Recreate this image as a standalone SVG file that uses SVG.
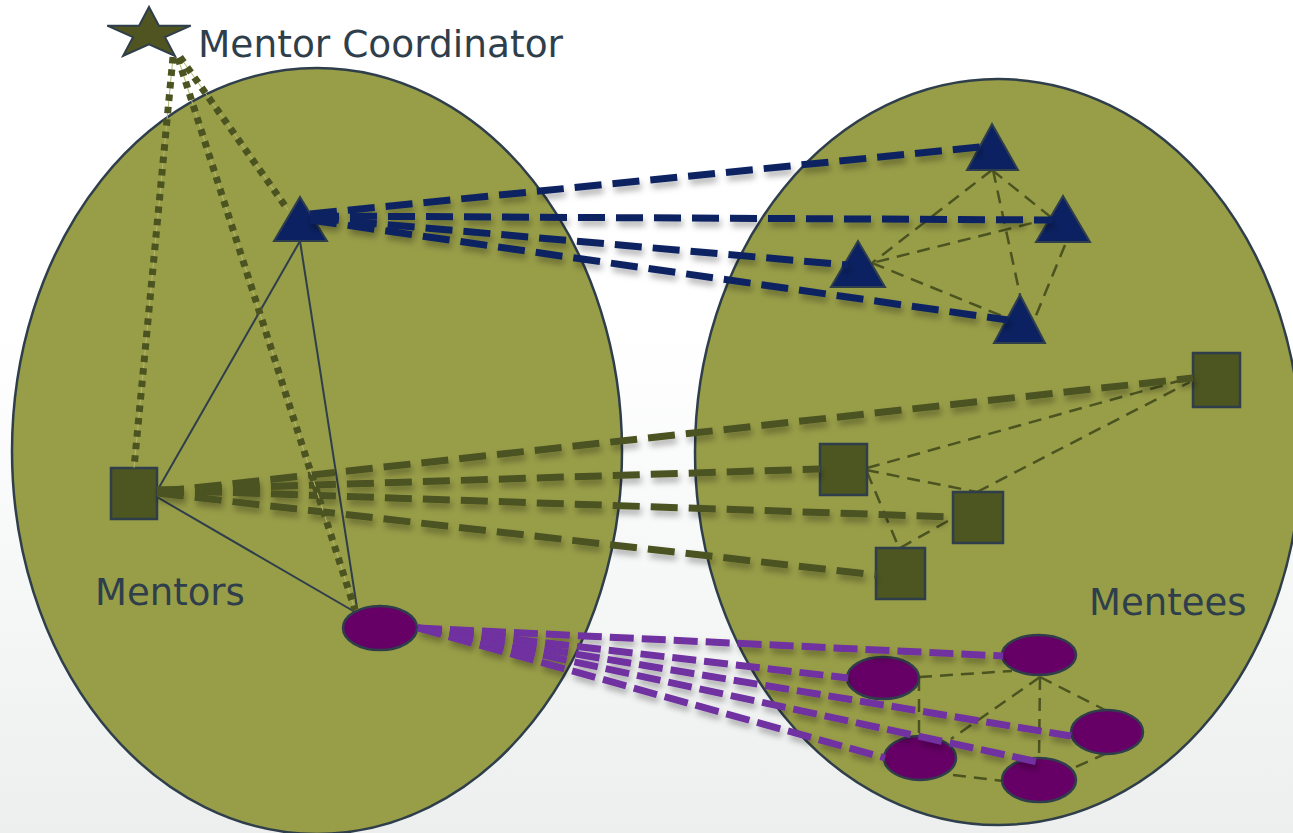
<svg xmlns="http://www.w3.org/2000/svg" width="1293" height="833" viewBox="0 0 1293 833">
<defs>
<linearGradient id="bg" x1="0" y1="0" x2="0" y2="833" gradientUnits="userSpaceOnUse">
<stop offset="0.4" stop-color="#ffffff"/>
<stop offset="1" stop-color="#edefef"/>
</linearGradient>
<filter id="shadow" filterUnits="userSpaceOnUse" x="0" y="0" width="1293" height="833">
<feDropShadow dx="2" dy="5" stdDeviation="3" flood-color="#000000" flood-opacity="0.3"/>
</filter>
<style>
.group{fill:#989d48;stroke:#2f3e4b;stroke-width:2.5}
.lbl{font-family:"DejaVu Sans","Verdana",sans-serif;font-size:37px;fill:#2f3e4b}
.big{font-size:37.5px}
.tri{fill:#0b2161;stroke:#2f3e4b;stroke-width:2}
.sq{fill:#4d5520;stroke:#2f3e4b;stroke-width:2.5}
.ell{fill:#660066;stroke:#2f3e4b;stroke-width:2.5}
.star{fill:#4f5421;stroke:#2f3e4b;stroke-width:2}
.blue{stroke:#0b2161;stroke-width:7;stroke-dasharray:27 11;fill:none}
.olive{stroke:#4b5320;stroke-width:7;stroke-dasharray:27 11;fill:none}
.purple{stroke:#7030a0;stroke-width:7;stroke-dasharray:24 8;fill:none}
.thin{stroke:#4b5320;stroke-width:2.5;stroke-dasharray:13 8;fill:none}
.dot{stroke:#4b5320;stroke-width:7;stroke-dasharray:6.5 6;fill:none}
.dotcore{stroke:#b5b86c;stroke-width:1;fill:none}
.solid{stroke:#2f3e4b;stroke-width:2;fill:none}
</style>
</defs>
<rect x="0" y="0" width="1293" height="833" fill="url(#bg)"/>

<g id="mentors-group">
<ellipse class="group" cx="317" cy="451" rx="305" ry="383"/>
<text class="lbl" x="95" y="605">Mentors</text>
</g>
<g id="mentees-group">
<ellipse class="group" cx="998" cy="452" rx="303" ry="373"/>
<text class="lbl" x="1089" y="615">Mentees</text>
</g>

<g id="connectors">
<g id="solid-links">
<line class="solid" x1="300" y1="241" x2="157" y2="491"/>
<line class="solid" x1="300" y1="241" x2="357" y2="608"/>
<line class="solid" x1="157" y1="497" x2="355" y2="612"/>
</g>
<g id="thin-dashed">
<line class="thin" x1="992" y1="170" x2="1052" y2="218"/>
<line class="thin" x1="992" y1="170" x2="872" y2="263"/>
<line class="thin" x1="993" y1="170" x2="1020" y2="295"/>
<line class="thin" x1="1052" y1="218" x2="872" y2="263"/>
<line class="thin" x1="872" y1="263" x2="1007" y2="318"/>
<line class="thin" x1="1065" y1="245" x2="1035" y2="318"/>
<line class="thin" x1="867" y1="468" x2="1193" y2="377"/>
<line class="thin" x1="977" y1="492" x2="1190" y2="382"/>
<line class="thin" x1="866" y1="470" x2="977" y2="492"/>
<line class="thin" x1="867" y1="472" x2="899" y2="548"/>
<line class="thin" x1="900" y1="548" x2="955" y2="517"/>
<line class="thin" x1="919" y1="677" x2="1012" y2="671"/>
<line class="thin" x1="919" y1="678" x2="919" y2="737"/>
<line class="thin" x1="1040" y1="677" x2="951" y2="739"/>
<line class="thin" x1="1040" y1="677" x2="1039" y2="760"/>
<line class="thin" x1="1040" y1="677" x2="1107" y2="711"/>
<line class="thin" x1="1107" y1="753" x2="1067" y2="771"/>
<line class="thin" x1="953" y1="775" x2="1003" y2="781"/>
</g>
</g>

<g id="mentor-coordinator">
<polygon class="star" points="149,7 158.9,25.7 190.8,25.7 165,37.2 174.9,55.8 149,44.3 123.1,55.8 133,37.2 107.2,25.7 139.1,25.7"/>
<text class="lbl big" x="198" y="57">Mentor Coordinator</text>
</g>
<g id="mentor-triangle"><polygon class="tri" points="300,197 327,241 274,241"/></g>
<g id="mentor-square"><rect class="sq" x="111" y="468" width="46" height="51"/></g>
<g id="mentor-ellipse"><ellipse class="ell" cx="380" cy="628" rx="37" ry="22"/></g>

<g id="mentee-triangle-1"><polygon class="tri" points="992,124 1018,170 967,170"/></g>
<g id="mentee-triangle-2"><polygon class="tri" points="1063,196 1090,242 1036,242"/></g>
<g id="mentee-triangle-3"><polygon class="tri" points="858,241 885,287 831,287"/></g>
<g id="mentee-triangle-4"><polygon class="tri" points="1020,295 1045,343 994,343"/></g>

<g id="mentee-square-1"><rect class="sq" x="1193" y="353" width="47" height="54"/></g>
<g id="mentee-square-2"><rect class="sq" x="820" y="444" width="47" height="51"/></g>
<g id="mentee-square-3"><rect class="sq" x="953" y="492" width="50" height="51"/></g>
<g id="mentee-square-4"><rect class="sq" x="876" y="548" width="49" height="51"/></g>

<g id="mentee-ellipse-1"><ellipse class="ell" cx="1039" cy="655" rx="37" ry="20"/></g>
<g id="mentee-ellipse-2"><ellipse class="ell" cx="883" cy="678" rx="36" ry="21"/></g>
<g id="mentee-ellipse-3"><ellipse class="ell" cx="1107" cy="732" rx="36" ry="22"/></g>
<g id="mentee-ellipse-4"><ellipse class="ell" cx="920" cy="758" rx="36" ry="22"/></g>
<g id="mentee-ellipse-5"><ellipse class="ell" cx="1039" cy="780" rx="37" ry="22"/></g>

<g id="connectors-thick">
<g id="blue-links" filter="url(#shadow)">
<line class="blue" x1="310" y1="214" x2="980" y2="147"/>
<line class="blue" x1="312" y1="216" x2="1052" y2="220"/>
<line class="blue" x1="312" y1="218" x2="848" y2="265"/>
<line class="blue" x1="310" y1="220" x2="1008" y2="320"/>
</g>
<g id="olive-links" filter="url(#shadow)">
<line class="olive" x1="157" y1="492" x2="1193" y2="378"/>
<line class="olive" x1="157" y1="490" x2="820" y2="469"/>
<line class="olive" x1="157" y1="490" x2="953" y2="517"/>
<line class="olive" x1="157" y1="493" x2="876" y2="575"/>
</g>
<g id="purple-links" filter="url(#shadow)">
<line class="purple" x1="418" y1="628" x2="1003" y2="656"/>
<line class="purple" x1="418" y1="628" x2="848" y2="678"/>
<line class="purple" x1="418" y1="628" x2="1071" y2="736"/>
<line class="purple" x1="418" y1="628" x2="885" y2="758"/>
<line class="purple" x1="418" y1="628" x2="1038" y2="762"/>
</g>
<g id="dotted-links">
<line class="dotcore" x1="173" y1="57" x2="134" y2="468"/>
<line class="dotcore" x1="178" y1="58" x2="355" y2="610"/>
<line class="dotcore" x1="180" y1="57" x2="288" y2="210"/>
<line class="dot" x1="173" y1="57" x2="134" y2="468"/>
<line class="dot" x1="178" y1="58" x2="355" y2="610"/>
<line class="dot" x1="180" y1="57" x2="288" y2="210"/>
</g>
</g>
</svg>
